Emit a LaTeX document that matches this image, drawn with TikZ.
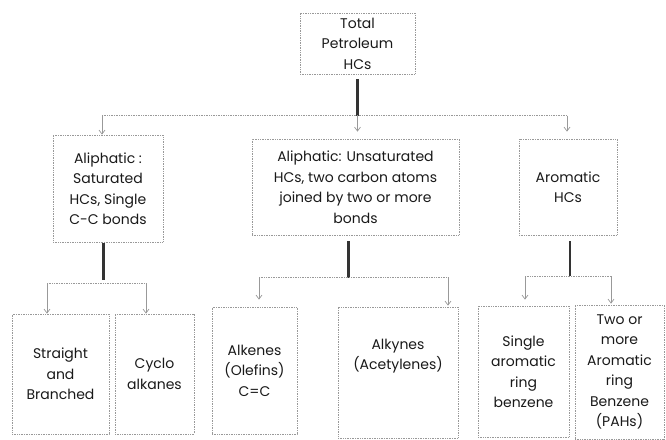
\documentclass[tikz,border=0pt]{standalone}
\usepackage{fontspec}
\setmainfont{Poppins}
\usetikzlibrary{arrows.meta}
\begin{document}
\begin{tikzpicture}[x=1pt,y=-1pt,
  box/.style={draw=gray!80, densely dotted, line width=0.7pt, align=center, inner sep=0pt,
    font=\fontsize{14}{20.5}\selectfont, text=black!90},
  thin/.style={draw=gray!80, densely dotted, line width=0.7pt},
  arr/.style={thin, -{Straight Barb[length=4pt,width=6pt]}, solid, draw=gray!80},
  trunk/.style={draw=black!80, line width=2.6pt}]
\useasboundingbox (0,0) rectangle (666,439);
% level 0
\node[box, minimum width=115, minimum height=61] (top) at (357.5,43.5) {Total\\Petroleum\\HCs};
% level 1
\node[box, minimum width=110, minimum height=107] (A) at (108,188.5) {Aliphatic :\\Saturated\\HCs, Single\\C-C bonds};
\node[box, minimum width=207, minimum height=96] (B) at (355.5,187) {Aliphatic: Unsaturated\\HCs, two carbon atoms\\joined by two or more\\bonds};
\node[box, minimum width=98, minimum height=96] (C) at (568,187) {Aromatic\\HCs};
% level 2
\node[box, minimum width=97, minimum height=120] (S) at (60.5,374) {Straight\\and\\Branched};
\node[box, minimum width=79, minimum height=120] (Cy) at (154.5,374) {Cyclo\\alkanes};
\node[box, minimum width=85, minimum height=127] (Ae) at (254.5,370.5) {Alkenes\\(Olefins)\\C=C};
\node[box, minimum width=120, minimum height=131] (Ay) at (398,372.5) {Alkynes\\(Acetylenes)\\[16pt]};
\node[box, minimum width=91, minimum height=131] (Si) at (523.5,371.5) {Single\\aromatic\\ring\\benzene};
\node[box, minimum width=89, minimum height=134] (Tw) at (619.5,372) {Two or\\more\\Aromatic\\ring\\Benzene\\(PAHs)};
% junctions
\coordinate (j0) at (357.5,115.5);
\coordinate (j0l) at (102,115.5);
\coordinate (j0r) at (567,115.5);
\coordinate (j1) at (103.5,283);
\coordinate (j1l) at (47,283);
\coordinate (j1r) at (146,283);
\coordinate (j2) at (348.5,277.5);
\coordinate (j2l) at (259,277.5);
\coordinate (j2r) at (448,277.5);
\coordinate (j3) at (570,276);
\coordinate (j3l) at (525,276);
\coordinate (j3r) at (611,276);
% trunk 0
\draw[trunk, shorten <=5pt] (top.south) -- (j0);
\draw[thin] (j0l) -- (j0r);
\draw[arr] (j0l) -- (j0l |- A.north);
\draw[arr, shorten >=7pt] (j0) -- (j0 |- B.north);
\draw[arr, shorten >=7pt] (j0r) -- (j0r |- C.north);
% trunk A
\draw[trunk, shorten <=1pt, shorten >=3pt] (A.south -| j1) -- (j1);
\draw[thin] (j1l) -- (j1r);
\draw[arr] (j1l) -- (j1l |- S.north);
\draw[arr] (j1r) -- (j1r |- Cy.north);
% trunk B
\draw[trunk, shorten <=6pt] (B.south -| j2) -- (j2);
\draw[thin] (j2l) -- (j2r);
\draw[arr, shorten >=7pt] (j2l) -- (j2l |- Ae.north);
\draw[arr, shorten >=1pt] (j2r) -- (j2r |- Ay.north);
% trunk C
\draw[trunk, shorten <=6pt] (C.south -| j3) -- (j3);
\draw[thin] (j3l) -- (j3r);
\draw[arr, shorten >=6pt] (j3l) -- (j3l |- Si.north);
\draw[arr, shorten >=1pt] (j3r) -- (j3r |- Tw.north);
\end{tikzpicture}
\end{document}
